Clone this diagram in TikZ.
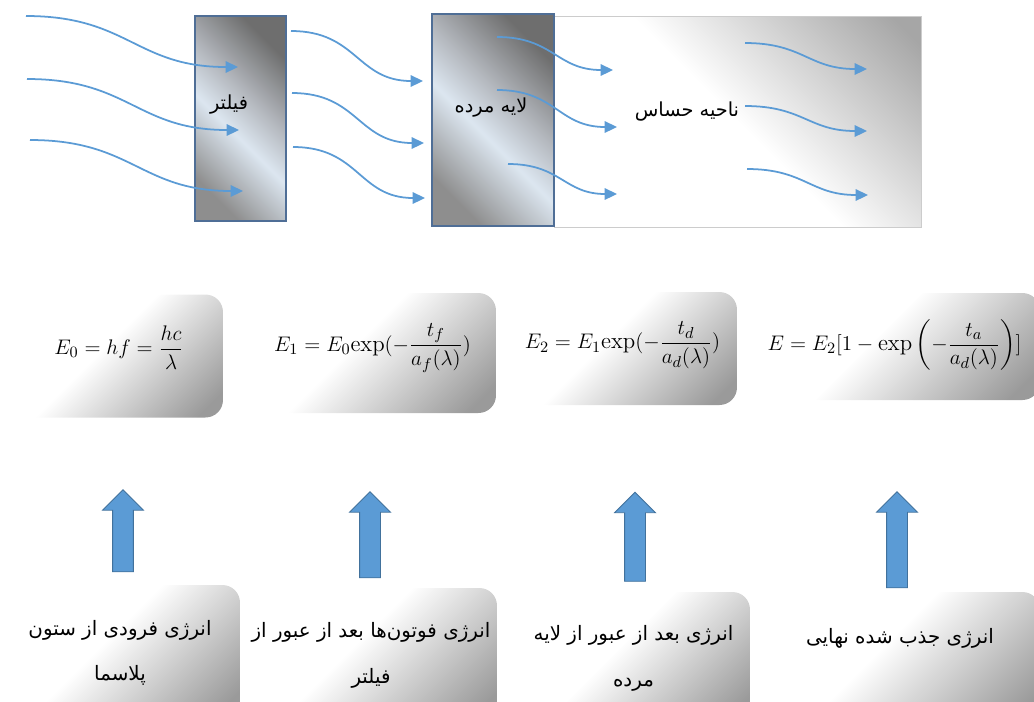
\documentclass[tikz,border=0pt]{standalone}
\usepackage{amsmath}
\usepackage{fontspec}
\usetikzlibrary{shapes.arrows, arrows.meta}
\newfontfamily\fafont[Script=Arabic]{DejaVu Sans}
\TeXXeTstate=1

\definecolor{raycol}{HTML}{5B9BD5}
\definecolor{arrowedge}{HTML}{41719C}
\definecolor{frameblue}{HTML}{4F6E96}
\definecolor{metaldark}{HTML}{6E6E6E}
\definecolor{metalmid}{HTML}{8E8E8E}
\definecolor{metallight}{HTML}{DCE6F0}
\definecolor{metalgrey}{HTML}{B4B8BE}
\definecolor{fadegrey}{HTML}{A6A6A6}
\definecolor{plategrey}{HTML}{9A9A9A}

\pgfdeclarehorizontalshading{metal}{100bp}{color(0bp)=(metalmid); color(25bp)=(metalmid); color(45bp)=(metallight); color(57bp)=(metalgrey); color(75bp)=(metaldark); color(100bp)=(metaldark)}
\pgfdeclarehorizontalshading{sensfade}{100bp}{color(0bp)=(white); color(50bp)=(white); color(82bp)=(fadegrey); color(100bp)=(fadegrey)}
\pgfdeclarehorizontalshading{platefade}{100bp}{color(0bp)=(white); color(45bp)=(white); color(80bp)=(plategrey); color(100bp)=(plategrey)}

\begin{document}
\begin{tikzpicture}[
            x=0.02cm, y=-0.02cm,
            % detector layers
            layer/.style={
                draw=frameblue, line width=1pt,
                shade, shading=metal, shading angle=45,
                inner sep=0pt
            },
            region/.style={
                draw=black!20, line width=0.5pt,
                shade, shading=sensfade, shading angle=45,
                inner sep=0pt
            },
            tag/.style={font=\fafont\fontsize{11}{13}\selectfont, inner sep=1pt},
            photon/.style={draw=raycol, line width=1pt, -{Triangle[length=7pt,width=6.5pt]}},
            % grey plates
            eqbox/.style={
                rounded corners=0.35cm,
                shade, shading=platefade, shading angle=-45,
                font=\fontsize{13}{15}\selectfont,
                inner sep=0pt
            },
            capbox/.style={
                rounded corners=0.35cm,
                shade, shading=platefade, shading angle=-45,
                align=center,
                font=\fafont\fontsize{11.3}{26}\selectfont,
                inner sep=0pt
            },
            uparrow/.style={
                single arrow, shape border rotate=90,
                fill=raycol, draw=arrowedge, line width=0.5pt,
                inner sep=0.2cm, single arrow head extend=0.2cm,
                minimum width=0.8cm
            }
        ]
    \useasboundingbox (0,0) rectangle (1034,701);

        % Detector
        \node[region, minimum width=7.34cm, minimum height=4.22cm] (sens) at (737.5,121.5) {};
        \node[layer, minimum width=2.44cm, minimum height=4.24cm] (dead) at (493,120) {};
        \node[layer, minimum width=1.82cm, minimum height=4.1cm] (filter) at (240.5,118.5) {};

        % Photons
        \foreach \n/\sx/\sy/\ex/\ey in {1/26/16/238/67, 2/27/79/239/130, 3/30/140/243/191,
                4/291/31/423/81, 5/292/93/424/143, 6/293/147/425/198,
                7/497/37/613/70, 8/497/90/617/127, 9/508/164/617/194,
                10/745/43/867/69, 11/745/106/867/131, 12/747/169/868/195}
        {
            \coordinate (ray\n a) at (\sx,\sy);
            \coordinate (ray\n b) at (\ex,\ey);
            \draw[photon] (ray\n a) to[out=0, in=180, looseness=1.2] (ray\n b);
        }

        \node[tag] (filtertag) at (229,105) {\beginR فیلتر\endR};
        \node[tag] (deadtag) at (491,108) {\beginR لایه مرده\endR};
        \node[tag] (senstag) at (687,112) {\beginR ناحیه حساس\endR};

        % Energy equations
        \node[eqbox, minimum width=4.16cm, minimum height=2.46cm, text depth=18pt] (eq0) at (119,356) {$\displaystyle E_0 = hf = \frac{hc}{\lambda}$};
        \node[eqbox, minimum width=4.94cm, minimum height=2.4cm, text depth=18pt] (eq1) at (372.5,353) {$\displaystyle E_1 = E_0\mathrm{exp}(-\frac{t_f}{a_f(\lambda)})$};
        \node[eqbox, minimum width=4.58cm, minimum height=2.26cm, text depth=15pt] (eq2) at (622.5,348.5) {$\displaystyle E_2 = E_1\mathrm{exp}(-\frac{t_d}{a_d(\lambda)})$};
        \node[eqbox, minimum width=5.82cm, minimum height=2.14cm, text depth=13pt] (eq3) at (894.5,346.5) {$\displaystyle E = E_2[1-\exp\left(-\frac{t_a}{a_d(\lambda)}\right)]$};

        % Captions
        \node[capbox, minimum width=4.8cm, minimum height=2.72cm] (cap0) at (120,653) {\beginR انرژی فرودی از ستون\endR\\ \beginR پلاسما\endR};
        \node[capbox, minimum width=5.04cm, minimum height=2.7cm] (cap1) at (371,655.5) {\beginR انرژی فوتون‌ها بعد از عبور از\endR\\ \beginR فیلتر\endR};
        \node[capbox, minimum width=4.66cm, minimum height=2.66cm] (cap2) at (633.5,658.5) {\beginR انرژی بعد از عبور از لایه\endR\\ \beginR مرده\endR};
        \node[capbox, minimum width=5.6cm, minimum height=2.66cm] (cap3) at (900,658.5) {\beginR انرژی جذب شده نهایی\endR\\ \mbox{}};

        % Block arrows
        \node[uparrow, minimum height=1.64cm] (up0) at (123,536) {};
        \node[uparrow, minimum height=1.72cm] (up1) at (370,540) {};
        \node[uparrow, minimum height=1.78cm] (up2) at (635,542) {};
        \node[uparrow, minimum height=1.92cm] (up3) at (897,545) {};

        \end{tikzpicture}
\end{document}
